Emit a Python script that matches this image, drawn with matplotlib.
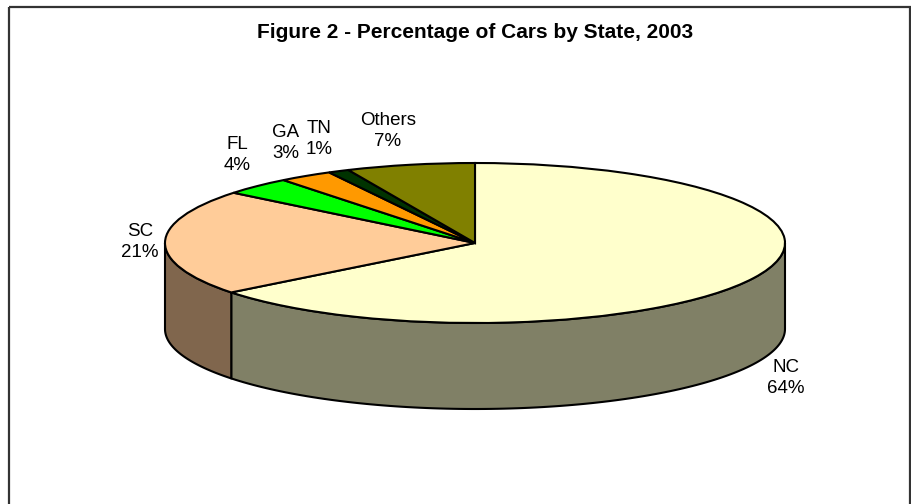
import numpy as np
import matplotlib.pyplot as plt
from matplotlib.patches import Wedge, Polygon, Rectangle
from matplotlib.transforms import Affine2D

# data (clockwise from 12 o'clock), percent of cars
states = ["NC", "SC", "FL", "GA", "TN", "Others"]
shares = [64.4, 21.4, 3.6, 2.8, 1.1, 6.7]
top_colors = ["#FFFFCC", "#FFCC99", "#00FF00", "#FF9900", "#003300", "#808000"]
side_colors = ["#808066", "#80664D", "#008000", "#804C00", "#001A00", "#404000"]
label_pos = [(786, 378), (140, 242), (237, 155), (286, 143), (319, 139), (388, 131)]

# layout of the pseudo-3D pie (pixel space)
cx, cy, rx, ry, depth = 475, 243, 310, 80, 86

fig = plt.figure(figsize=(9.12, 5.04), dpi=100)
ax = fig.add_axes([0, 0, 1, 1])
ax.set_xlim(0, 912)
ax.set_ylim(504, 0)
ax.axis("off")

# frame
ax.add_patch(Rectangle((9.5, 6.5), 901, 520, fill=False, ec="#333333", lw=1.6, clip_on=True))

fracs = np.array(shares, dtype=float) / sum(shares)
ends = 90 - 360 * np.cumsum(fracs)
starts = np.concatenate([[90], ends[:-1]])


def pt(t, dz=0):
    r = np.radians(t)
    return cx + rx * np.cos(r), cy - ry * np.sin(r) + dz


# side walls, only the front half (angles 180..360) is visible
for s, e, col in zip(starts, ends, side_colors):
    lo, hi = min(s, e), max(s, e)
    lo, hi = lo % 360, lo % 360 + (hi - lo)
    segs = []
    for off in (0, 360, -360):
        a, b = max(lo + off, 180), min(hi + off, 360)
        if b > a:
            segs.append((a, b))
    for a, b in segs:
        tt = np.linspace(a, b, 120)
        top = [pt(t) for t in tt]
        bot = [pt(t, depth) for t in tt[::-1]]
        ax.add_patch(Polygon(top + bot, closed=True, fc=col, ec="black", lw=1.5, joinstyle="round"))

# top faces
tr = Affine2D().scale(rx, -ry).translate(cx, cy) + ax.transData
for s, e, col in zip(starts, ends, top_colors):
    w = Wedge((0, 0), 1, e, s, fc=col, ec="black", lw=1.5, transform=tr)
    ax.add_patch(w)

for name, v, (x, y) in zip(states, shares, label_pos):
    ax.text(x, y, f"{name}\n{v:.0f}%", ha="center", va="center", fontsize=13.5,
            family="Liberation Sans", linespacing=1.3)

ax.text(475, 33, "Figure 2 - Percentage of Cars by State, 2003", ha="center", va="center",
        fontsize=15, fontweight="bold", family="Liberation Sans")

fig.savefig("out.png", dpi=100)
